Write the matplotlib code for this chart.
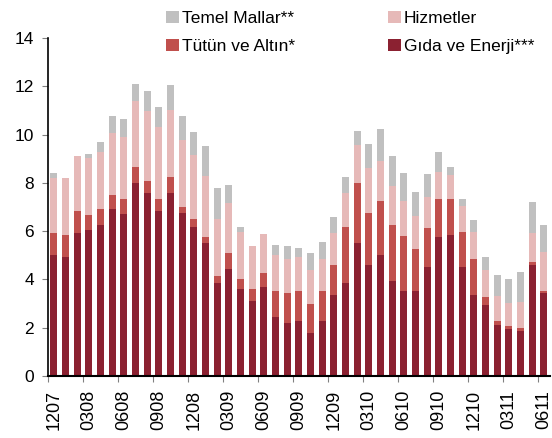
"""Enflasyon katkilari - yigilmis cubuk grafik."""
import numpy as np
import matplotlib.pyplot as plt

plt.rcParams["font.family"] = ["Liberation Sans", "DejaVu Sans"]

# Aylar: 12/07 - 06/11, etiketler her 3 ayda bir
months = ["1207", "0108", "0208", "0308", "0408", "0508", "0608", "0708", "0808",
          "0908", "1008", "1108", "1208", "0109", "0209", "0309", "0409", "0509",
          "0609", "0709", "0809", "0909", "1009", "1109", "1209", "0110", "0210",
          "0310", "0410", "0510", "0610", "0710", "0810", "0910", "1010", "1110",
          "1210", "0111", "0211", "0311", "0411", "0511", "0611"]

gida_enerji = [5.00, 4.92, 5.92, 6.06, 6.25, 6.90, 6.72, 7.99, 7.57, 6.83, 7.57,
               6.77, 6.19, 5.52, 3.84, 4.43, 3.59, 3.11, 3.67, 2.43, 2.20, 2.28,
               1.78, 2.28, 3.36, 3.87, 5.52, 4.60, 5.01, 3.95, 3.51, 3.51, 4.50,
               5.74, 5.84, 4.50, 3.34, 2.93, 2.10, 1.93, 1.85, 4.59, 3.45]
tutun_altin = [0.91, 0.92, 0.91, 0.61, 0.65, 0.58, 0.60, 0.67, 0.51, 0.50, 0.66,
               0.23, 0.31, 0.22, 0.32, 0.67, 0.41, 0.51, 0.58, 1.09, 1.24, 1.24,
               1.22, 1.25, 1.22, 2.32, 2.46, 2.14, 2.24, 2.30, 2.30, 1.74, 1.64,
               1.58, 1.48, 1.48, 1.49, 0.33, 0.17, 0.16, 0.15, 0.14, 0.08]
hizmetler = [2.28, 2.35, 2.30, 2.37, 2.38, 2.57, 2.57, 2.73, 2.91, 2.97, 2.80,
             2.76, 2.65, 2.56, 2.33, 2.08, 1.97, 1.75, 1.62, 1.48, 1.42, 1.40,
             1.38, 1.30, 1.33, 1.40, 1.59, 1.86, 1.66, 1.63, 1.44, 1.39, 1.26,
             1.12, 0.99, 1.06, 1.14, 1.13, 1.06, 0.92, 1.08, 1.18, 1.62]
temel_mallar = [0.23, 0.00, 0.00, 0.16, 0.43, 0.73, 0.76, 0.72, 0.80, 0.86, 1.01,
                1.02, 0.96, 1.24, 1.28, 0.73, 0.19, 0.00, 0.00, 0.43, 0.53, 0.40,
                0.73, 0.73, 0.68, 0.64, 0.59, 1.01, 1.31, 1.25, 1.15, 0.97, 0.97,
                0.85, 0.34, 0.28, 0.49, 0.53, 0.84, 0.99, 1.23, 1.31, 1.10]

C_GIDA = "#8B2131"
C_TUTUN = "#C0504D"
C_HIZ = "#E6B9B8"
C_TEMEL = "#C0C0C0"

fig = plt.figure(figsize=(5.52, 4.38), dpi=100)
ax = fig.add_axes([0.087, 0.1416, 0.909, 0.7716])

x = np.arange(len(months))
w = 0.6
b1 = np.array(gida_enerji)
b2 = b1 + np.array(tutun_altin)
b3 = b2 + np.array(hizmetler)

h_gida = ax.bar(x, gida_enerji, w, color=C_GIDA, label="Gıda ve Enerji***")
h_tutun = ax.bar(x, tutun_altin, w, bottom=b1, color=C_TUTUN, label="Tütün ve Altın*")
h_hiz = ax.bar(x, hizmetler, w, bottom=b2, color=C_HIZ, label="Hizmetler")
h_temel = ax.bar(x, temel_mallar, w, bottom=b3, color=C_TEMEL, label="Temel Mallar**")

ax.set_xlim(-0.5, len(months) - 0.5)
ax.set_ylim(0, 14)
ax.set_yticks(range(0, 15, 2))
ax.tick_params(axis="y", labelsize=12.5, length=4, color="#808080",
               direction="out", pad=6)

# Excel tarzi: tik isaretleri kategori sinirlarinda, etiketler cubuk ortasinda
ax.set_xticks(np.arange(-0.5, len(months) - 1, 3))
ax.set_xticklabels([])
ax.set_xticks(x[::3], minor=True)
ax.set_xticklabels(months[::3], minor=True, rotation=90)
ax.tick_params(axis="x", which="major", length=4, color="#808080", direction="out")
ax.tick_params(axis="x", which="minor", length=0, labelsize=13, pad=10)

for s in ["top", "right"]:
    ax.spines[s].set_visible(False)
ax.spines["left"].set_linewidth(1.2)
ax.spines["bottom"].set_linewidth(1.5)

fig.legend([h_temel, h_tutun, h_hiz, h_gida],
           ["Temel Mallar**", "Tütün ve Altın*", "Hizmetler", "Gıda ve Enerji***"],
           ncol=2, loc="upper left", bbox_to_anchor=(0.289, 0.990), frameon=False,
           fontsize=12.5, handlelength=0.7, handleheight=0.7, handletextpad=0.2,
           columnspacing=5.37, labelspacing=0.7, borderaxespad=0)

fig.savefig("out.png", dpi=100, facecolor="white")
